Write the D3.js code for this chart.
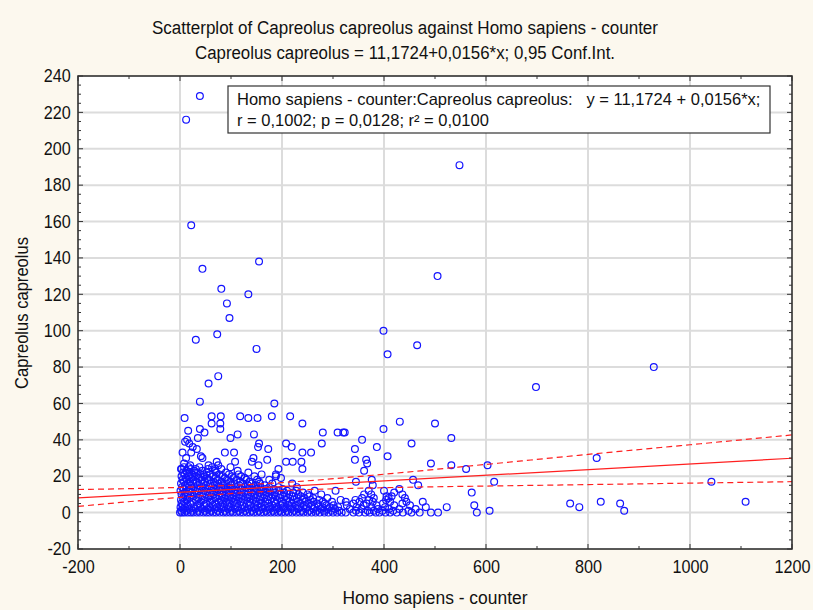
<!DOCTYPE html>
<html>
<head>
<meta charset="utf-8">
<script src="https://cdn.jsdelivr.net/npm/d3@7"></script>
<style>
  html, body { margin: 0; padding: 0; background: #fcf8ee; }
  svg { display: block; }
</style>
</head>
<body>
<svg id="chart" width="813" height="610"></svg>
<script>
// ---------------- DATA ----------------
const titleText = "Scatterplot of Capreolus capreolus against Homo sapiens - counter";
const subtitleText = "Capreolus capreolus = 11,1724+0,0156*x; 0,95 Conf.Int.";
const xLabel = "Homo sapiens - counter";
const yLabel = "Capreolus capreolus";
const legendLine1 = "Homo sapiens - counter:Capreolus capreolus:\u00a0\u00a0 y = 11,1724 + 0,0156*x;";
const legendLine2 = "r = 0,1002; p = 0,0128; r² = 0,0100";

const xTicks = [-200, 0, 200, 400, 600, 800, 1000, 1200];
const yTicks = [-20, 0, 20, 40, 60, 80, 100, 120, 140, 160, 180, 200, 220, 240];

const intercept = 11.1724;
const slope = 0.0156;

// 95% confidence band
const ciX     = [-200, 0,     200,  400,  600,  800,  1000, 1200];
const ciUpper = [12.7, 13.9, 16.5, 21.1, 26.5, 32.0, 37.3, 42.7];
const ciLower = [3.4,  8.4,  12.1, 13.7, 14.6, 15.4, 16.2, 17.0];

// isolated points (x = Homo sapiens counter, y = Capreolus capreolus)
const outliers = [
  [39,229],[12,216],[548,191],[22,158],[155,138],[44,134],[505,130],[81,123],[134,120],
  [92,115],[97,107],[399,100],[73,98],[31,95],[465,92],[150,90],[407,87],[929,80],
  [75,75],[56,71],[698,69],[39,61],[185,60],[817,30],[1042,17],[1109,6],[765,5],
  [783,3],[825,6],[863,5],[871,1]
];

// moderately spread points
const midPoints = [
  [62,53],[80,53],[118,53],[134,52],[152,52],[180,53],[216,53],[62,49],[79,49],[240,49],
  [431,50],[500,49],[39,46],[79,46],[399,46],[323,44],[280,44],[309,44],[320,44],[113,43],
  [145,43],[532,41],[99,41],[14,40],[357,40],[10,39],[18,38],[155,38],[208,38],[278,38],
  [454,38],[25,36],[153,36],[219,36],[386,36],[33,35],[173,35],[343,35],[22,33],[88,33],
  [106,33],[240,33],[257,33],[41,31],[407,31],[44,30],[144,30],[171,29],[343,29],[365,29],
  [8,27],[108,28],[72,28],[141,28],[208,28],[221,28],[238,28],[367,27],[492,27],[20,26],
  [56,26],[75,26],[154,26],[532,26],[603,26],[31,24],[69,24],[193,24],[240,24],[561,24],
  [361,23],[188,21],[345,17],[376,18],[457,18],[616,17],[378,15],[467,15],[572,11],
  [430,13],[436,10],[441,8],[444,6],[400,12],[405,9],[415,9],[420,11],[577,4],[607,1],
  [582,0],[523,3],[506,0],[476,6],[482,3],[451,4],[454,0],[35,41],[48,44],[5,33],
  [12,30],[28,22],[46,21],[3,24],[16,45],[9,52]
];

// dense base: [y, list of x]
const baseRows = [
  [0, [0,4,9,15,21,26,33,39,46,52,58,65,71,78,85,91,98,104,111,118,124,131,137,144,151,158,164,171,178,185,192,199,206,213,220,228,235,242,250,258,266,274,283,291,300,308,317,325,340,351,363,372,384,391,403,412,425,437,470,492]],
  [1, [2,12,24,36,49,61,74,88,101,115,128,141,155,169,183,196,210,224,239,253,268,282,297,312,345,368,380,397,418,448]],
  [2, [6,18,30,43,55,68,81,94,108,121,134,148,162,176,190,204,218,232,247,262,276,289,304,333,356,388,410,430,462]],
  [3, [1,10,27,40,57,72,86,99,113,127,145,160,174,189,203,217,233,248,264,279,294,310,346,375,402]],
  [4, [5,15,34,48,64,79,93,107,122,138,152,166,181,197,212,227,243,258,271,287,301,327,360,385,420]],
  [5, [3,20,38,52,69,84,97,112,131,147,158,173,188,202,219,236,252,269,284,340,366,398,436]],
  [6, [8,23,41,59,76,90,105,119,136,150,167,184,199,215,231,246,262,280,298,325,352,378,412]],
  [7, [2,14,31,46,62,80,95,110,126,143,157,172,190,208,223,240,256,273,315,344,371,404]],
  [8, [6,19,36,55,70,87,102,117,133,149,165,181,196,212,229,244,261,289,357,380,409]],
  [9, [11,27,44,60,77,93,109,124,140,157,173,188,205,221,237,254]],
  [10,[3,16,33,50,66,83,99,116,132,147,164,180,197,214,232,250,277,361,375]],
  [11,[9,24,42,58,73,90,106,121,139,155,170,186,204,222,241]],
  [12,[1,17,30,47,64,80,96,112,128,145,160,176,193,210,228,264,305,370]],
  [13,[7,22,38,54,71,87,102,119,135,151,168,184,201]],
  [14,[4,13,28,45,62,78,94,110,127,142,158,175,193,229]],
  [15,[10,20,35,51,68,85,100,116,133,149,166]],
  [16,[2,15,26,42,59,75,91,107,124,140,157,181,220]],
  [17,[8,19,33,49,66,82,99,118,136,155]],
  [18,[5,14,27,43,57,74,92,111,130,151,175]],
  [19,[11,22,37,53,70,88,105,127,198]],
  [20,[3,17,31,48,65,84,102,120,146,188]],
  [21,[9,24,40,58,77,96,115,160]],
  [22,[6,18,35,52,71,90,134]],
  [23,[13,28,44,69,113]],
  [24,[2,21,55,81]],
  [25,[8,17,38,63,99]]
];

// ---------------- CHART ----------------
const svg = d3.select("#chart");
const W = 813, H = 610;
const plot = { left: 78, right: 792, top: 76, bottom: 549 };

const x = d3.scaleLinear().domain([-200, 1200]).range([plot.left, plot.right]);
const y = d3.scaleLinear().domain([-20, 240]).range([plot.bottom, plot.top]);

svg.append("rect").attr("width", W).attr("height", H).attr("fill", "#fcf8ee");
svg.append("rect")
  .attr("x", plot.left).attr("y", plot.top)
  .attr("width", plot.right - plot.left).attr("height", plot.bottom - plot.top)
  .attr("fill", "#ffffff");

const font = "'Liberation Sans', Arial, sans-serif";

// gridlines
const grid = svg.append("g");
grid.selectAll(".gx").data(xTicks.slice(1, -1)).enter().append("line")
  .attr("x1", d => x(d)).attr("x2", d => x(d))
  .attr("y1", plot.top).attr("y2", plot.bottom)
  .attr("stroke", "#dcdcdc").attr("stroke-width", 2);
grid.selectAll(".gy").data(yTicks.slice(1, -1)).enter().append("line")
  .attr("y1", d => y(d)).attr("y2", d => y(d))
  .attr("x1", plot.left).attr("x2", plot.right)
  .attr("stroke", "#dcdcdc").attr("stroke-width", 2);

// clip
svg.append("clipPath").attr("id", "clip").append("rect")
  .attr("x", plot.left).attr("y", plot.top)
  .attr("width", plot.right - plot.left).attr("height", plot.bottom - plot.top);

// points
const allPoints = [];
baseRows.forEach(([yy, xs]) => xs.forEach(xx => allPoints.push([xx, yy])));
midPoints.forEach(p => allPoints.push(p));
outliers.forEach(p => allPoints.push(p));

svg.append("g").attr("clip-path", "url(#clip)")
  .selectAll("circle").data(allPoints).enter().append("circle")
  .attr("cx", d => x(d[0])).attr("cy", d => y(d[1]))
  .attr("r", 3.4)
  .attr("fill", "none").attr("stroke", "#1414ff").attr("stroke-width", 1.2);

// regression + confidence band
const lines = svg.append("g").attr("clip-path", "url(#clip)");
const regLine = d3.line().x(d => x(d[0])).y(d => y(d[1]));
lines.append("path")
  .datum([[-200, intercept + slope * -200], [1200, intercept + slope * 1200]])
  .attr("d", regLine).attr("fill", "none").attr("stroke", "#ff2020").attr("stroke-width", 1.2);
const ciLine = d3.line().x(d => x(d[0])).y(d => y(d[1])).curve(d3.curveMonotoneX);
[ciUpper, ciLower].forEach(arr => {
  lines.append("path")
    .datum(ciX.map((v, i) => [v, arr[i]]))
    .attr("d", ciLine).attr("fill", "none").attr("stroke", "#ff2020")
    .attr("stroke-width", 1.2).attr("stroke-dasharray", "6,4");
});

// frame
svg.append("rect")
  .attr("x", plot.left).attr("y", plot.top)
  .attr("width", plot.right - plot.left).attr("height", plot.bottom - plot.top)
  .attr("fill", "none").attr("stroke", "#222").attr("stroke-width", 1.5);

// axes with inward ticks
const xMinor = d3.range(-200, 1201, 100);
const yMinor = d3.range(-20, 241, 5);
const fmt = d => String(d);
const axisBottom = d3.axisBottom(x).tickValues(xTicks).tickSize(0).tickPadding(11).tickFormat(fmt);
const axisLeft = d3.axisLeft(y).tickValues(yTicks).tickSize(0).tickPadding(8).tickFormat(fmt);

const gx = svg.append("g").attr("transform", `translate(0,${plot.bottom})`).call(axisBottom);
const gy = svg.append("g").attr("transform", `translate(${plot.left},0)`).call(axisLeft);
[gx, gy].forEach(g => {
  g.select(".domain").remove();
  g.selectAll("text").attr("font-family", font).attr("font-size", 18).attr("fill", "#111")
    .attr("transform", "scale(0.9,1)");
});

const ticks = svg.append("g").attr("stroke", "#333").attr("stroke-width", 1);
xMinor.forEach(v => {
  const len = v % 200 === 0 ? 5 : 3;
  ticks.append("line").attr("x1", x(v)).attr("x2", x(v)).attr("y1", plot.bottom).attr("y2", plot.bottom - len);
  ticks.append("line").attr("x1", x(v)).attr("x2", x(v)).attr("y1", plot.top).attr("y2", plot.top + len);
});
yMinor.forEach(v => {
  const len = v % 20 === 0 ? 5 : 3;
  ticks.append("line").attr("y1", y(v)).attr("y2", y(v)).attr("x1", plot.left).attr("x2", plot.left + len);
  ticks.append("line").attr("y1", y(v)).attr("y2", y(v)).attr("x1", plot.right).attr("x2", plot.right - len);
});

// titles
function label(txt, xPos, yPos, len, rotate) {
  const t = svg.append("text")
    .attr("text-anchor", "middle")
    .attr("font-family", font).attr("font-size", 18).attr("fill", "#111")
    .attr("textLength", len).attr("lengthAdjust", "spacingAndGlyphs")
    .text(txt);
  if (rotate) t.attr("transform", `translate(${xPos},${yPos}) rotate(-90)`);
  else t.attr("x", xPos).attr("y", yPos);
  return t;
}
label(titleText, 405, 34, 506);
label(subtitleText, 405, 59, 420);
label(xLabel, 435, 604, 185);
label(yLabel, 28, 313, 152, true);

// legend box
const lg = svg.append("g");
lg.append("rect").attr("x", 228).attr("y", 86).attr("width", 542).attr("height", 47)
  .attr("fill", "#ffffff").attr("stroke", "#333").attr("stroke-width", 1.2);
lg.append("text").attr("x", 237).attr("y", 105).attr("font-family", font)
  .attr("font-size", 16.5).attr("fill", "#111").text(legendLine1);
lg.append("text").attr("x", 237).attr("y", 126).attr("font-family", font)
  .attr("font-size", 16.5).attr("fill", "#111").text(legendLine2);
</script>
</body>
</html>
